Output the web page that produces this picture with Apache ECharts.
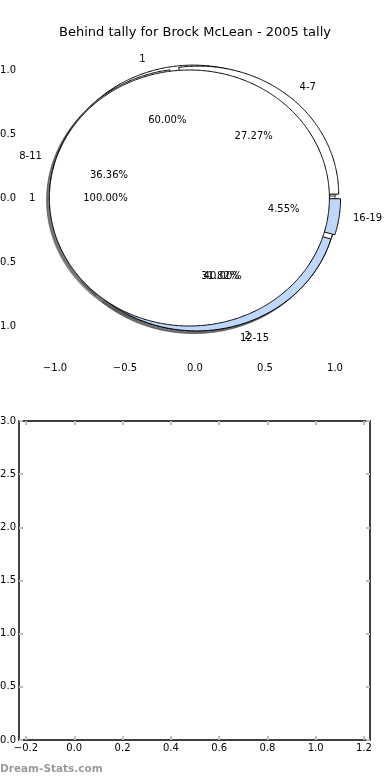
<!DOCTYPE html>
<html><head><meta charset="utf-8">
<script src="https://cdn.jsdelivr.net/npm/echarts@6/dist/echarts.min.js"></script>
<style>html,body{margin:0;padding:0;background:#fff}#c{width:390px;height:780px}</style>
</head><body><div id="c"></div>
<script>
// ---- data ----
const titleText = 'Behind tally for Brock McLean - 2005 tally';
const pie1Labels = ['4-7', '8-11', '12-15', '16-19'];
const pie1Values = [6, 8, 7, 1];
const pie2Labels = ['1', '2'];
const pie2Values = [3, 2];
const pie3Labels = ['1'];
const pie3Values = [1];
const pieTicks = [-1.0, -0.5, 0.0, 0.5, 1.0];
const lowerXTicks = [-0.2, 0.0, 0.2, 0.4, 0.6, 0.8, 1.0, 1.2];
const lowerYTicks = [0.0, 0.5, 1.0, 1.5, 2.0, 2.5, 3.0];
const watermarkText = 'Dream-Stats.com';

// ---- style ----
const FONT = 'DejaVu Sans';
const W = '#ffffff', B = '#bfd7fa';
const EXPLODE = 0.04, RADIUS = 1, SHADOW = -0.02;
const LABEL_DIST = 1.1, PCT_DIST = 0.6;
// drawing order (z): pie2 below pie1, pie3 on top
const pies = [
  {labels: pie1Labels, values: pie1Values, colors: [W, W, B, B], z: 3},
  {labels: pie2Labels, values: pie2Values, colors: [W, W], z: 2},
  {labels: pie3Labels, values: pie3Values, colors: [W], z: 4}
];

function geom(values, i) {
  const total = values.reduce((a, b) => a + b, 0);
  let start = 0;
  for (let k = 0; k < i; k++) start += values[k] / total * 360;
  const span = values[i] / total * 360;
  const mid = (start + span / 2) * Math.PI / 180;
  return {start, span, mid, frac: values[i] / total};
}
function wedgePoints(api, values, i, dx, dy) {
  const g = geom(values, i);
  const cx = EXPLODE * Math.cos(g.mid) + dx, cy = EXPLODE * Math.sin(g.mid) + dy;
  const full = Math.abs(g.span - 360) < 1e-9;
  const pts = [];
  if (!full) pts.push(api.coord([cx, cy]));
  const n = Math.max(6, Math.ceil(g.span * 2));
  for (let k = 0; k <= n; k++) {
    const t = (g.start + g.span * k / n) * Math.PI / 180;
    pts.push(api.coord([cx + RADIUS * Math.cos(t), cy + RADIUS * Math.sin(t)]));
  }
  return pts;
}
function darken(hex) {
  const r = parseInt(hex.slice(1, 3), 16), g = parseInt(hex.slice(3, 5), 16), b = parseInt(hex.slice(5, 7), 16);
  return 'rgba(' + Math.round(r * 0.3) + ',' + Math.round(g * 0.3) + ',' + Math.round(b * 0.3) + ',0.5)';
}
function fmt(v) { return (v < 0 ? '\u2212' : '') + Math.abs(v).toFixed(1); }

const series = [];
// shadows (behind all wedges)
pies.forEach((p) => {
  series.push({
    type: 'custom', xAxisIndex: 0, yAxisIndex: 0, z: 1, silent: true,
    data: p.values.map(v => [0, 0, v]),
    renderItem: (params, api) => {
      const i = params.dataIndex;
      const c = darken(p.colors[i % p.colors.length]);
      return {type: 'polygon', shape: {points: wedgePoints(api, p.values, i, SHADOW, SHADOW)},
              style: {fill: c, stroke: c, lineWidth: 1}};
    }
  });
});
// wedges
pies.forEach((p) => {
  series.push({
    type: 'custom', xAxisIndex: 0, yAxisIndex: 0, z: p.z, silent: true,
    data: p.values.map(v => [0, 0, v]),
    renderItem: (params, api) => {
      const i = params.dataIndex;
      return {type: 'polygon', shape: {points: wedgePoints(api, p.values, i, 0, 0)},
              style: {fill: p.colors[i % p.colors.length], stroke: '#000', lineWidth: 1}};
    }
  });
});
// labels
pies.forEach((p) => {
  series.push({
    type: 'custom', xAxisIndex: 0, yAxisIndex: 0, z: 10, silent: true,
    data: p.values.map(v => [0, 0, v]),
    renderItem: (params, api) => {
      const i = params.dataIndex;
      const g = geom(p.values, i);
      const cx = EXPLODE * Math.cos(g.mid), cy = EXPLODE * Math.sin(g.mid);
      const lx = cx + LABEL_DIST * RADIUS * Math.cos(g.mid), ly = cy + LABEL_DIST * RADIUS * Math.sin(g.mid);
      const px = cx + PCT_DIST * RADIUS * Math.cos(g.mid), py = cy + PCT_DIST * RADIUS * Math.sin(g.mid);
      const lp = api.coord([lx, ly]), pp = api.coord([px, py]);
      const al = lx > 0 ? 'left' : 'right';
      return {type: 'group', children: [
        {type: 'text', style: {x: lp[0], y: lp[1], text: p.labels[i], fill: '#000', font: '10px ' + FONT,
          align: al, verticalAlign: 'middle', textAlign: al, textVerticalAlign: 'middle'}},
        {type: 'text', style: {x: pp[0], y: pp[1], text: (g.frac * 100).toFixed(2) + '%', fill: '#000', font: '10px ' + FONT,
          align: 'center', verticalAlign: 'middle', textAlign: 'center', textVerticalAlign: 'middle'}}
      ]};
    }
  });
});

const tickStyle = {show: true, inside: true, length: 4, lineStyle: {color: '#bdbdbd', width: 2}};
const labelStyle = {color: '#000', fontFamily: FONT, fontSize: 10};

function pieAxis(pos, isX, showLabel) {
  return {
    type: 'value', position: pos, min: -1.25, max: 1.25,
    axisLine: {show: false}, splitLine: {show: false},
    axisTick: Object.assign({}, tickStyle, {customValues: pieTicks}),
    axisLabel: Object.assign({}, labelStyle, {show: showLabel, customValues: pieTicks, formatter: fmt, margin: isX ? 5 : 4})
  };
}
function lowAxis(pos, isX, showLabel) {
  const base = {
    type: 'value', position: pos,
    axisLine: {show: true, onZero: false, lineStyle: {color: '#000', width: 1.5}},
    splitLine: {show: false}
  };
  if (isX) {
    return Object.assign(base, {min: -0.229, max: 1.225,
      axisTick: Object.assign({}, tickStyle, {customValues: lowerXTicks}),
      axisLabel: Object.assign({}, labelStyle, {show: showLabel, customValues: lowerXTicks, formatter: fmt, margin: 3})});
  }
  return Object.assign(base, {min: 0, max: 3,
    axisTick: Object.assign({}, tickStyle, {customValues: lowerYTicks}),
    axisLabel: Object.assign({}, labelStyle, {show: showLabel, customValues: lowerYTicks, formatter: fmt, margin: 3})});
}

const chart = echarts.init(document.getElementById('c'), null, {renderer: 'canvas'});
chart.setOption({
  animation: false,
  backgroundColor: '#fff',
  title: {text: titleText, left: 'center', top: 21, textStyle: {fontFamily: FONT, fontSize: 13, fontWeight: 'normal', color: '#000'}},
  grid: [
    {left: 20, right: 20, top: 38, bottom: 422, containLabel: false, outerBoundsMode: 'none'},
    {left: 19, right: 20, top: 421, bottom: 40, containLabel: false, outerBoundsMode: 'none'}
  ],
  xAxis: [
    pieAxis('bottom', true, true), pieAxis('top', true, false),
    lowAxis('bottom', true, true), lowAxis('top', true, false)
  ].map((a, k) => Object.assign(a, {gridIndex: k < 2 ? 0 : 1})),
  yAxis: [
    pieAxis('left', false, true), pieAxis('right', false, false),
    lowAxis('left', false, true), lowAxis('right', false, false)
  ].map((a, k) => Object.assign(a, {gridIndex: k < 2 ? 0 : 1})),
  graphic: [{type: 'text', left: 0, top: 764, style: {text: watermarkText, fill: '#9a9a9a', font: 'bold 10.5px ' + FONT}}],
  series: series
});
</script>
</body></html>
